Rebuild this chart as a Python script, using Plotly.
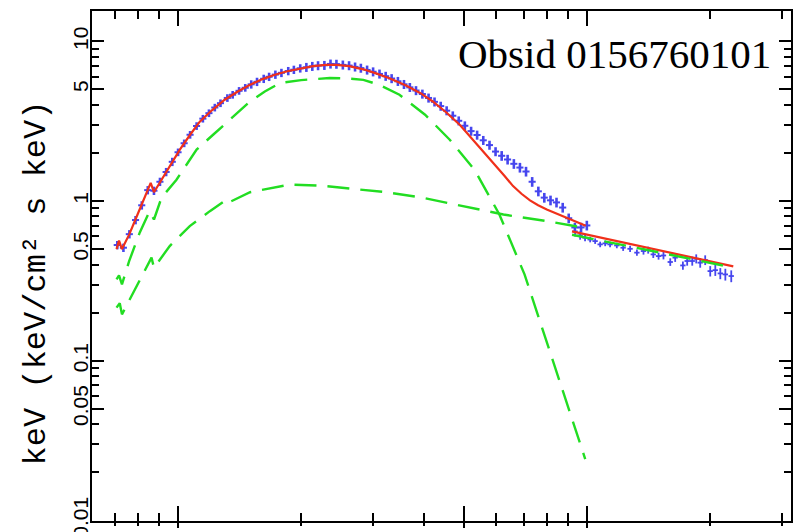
import plotly.graph_objects as go

# ---------------- data ----------------
# observed spectrum, first instrument (keV, keV^2 photons/cm2/s/keV)
d1_E = [0.71, 0.735, 0.76, 0.787, 0.815, 0.843, 0.873, 0.903, 0.935, 0.968,
        1.00, 1.035, 1.07, 1.11, 1.15, 1.19, 1.23, 1.27, 1.32, 1.36, 1.41, 1.46,
        1.51, 1.56, 1.62, 1.67, 1.73, 1.79, 1.86, 1.92, 1.99,
        2.06, 2.13, 2.20, 2.28, 2.36, 2.44, 2.53, 2.62, 2.71, 2.80, 2.90,
        3.00, 3.11, 3.22, 3.33, 3.45, 3.57, 3.69, 3.82, 3.96,
        4.10, 4.24, 4.39, 4.54, 4.70, 4.86,
        5.03, 5.21, 5.39, 5.58, 5.78, 5.98,
        6.19, 6.40, 6.63, 6.86, 7.10, 7.35, 7.61, 7.87,
        8.15, 8.43, 8.73, 9.03, 9.35, 9.68, 10.0]
d1_F = [0.53, 0.51, 0.62, 0.76, 0.94, 1.17, 1.16, 1.32, 1.52, 1.76,
        2.02, 2.30, 2.60, 2.95, 3.28, 3.55, 3.85, 4.10, 4.42, 4.63, 4.90, 5.12,
        5.38, 5.58, 5.83, 6.00, 6.19, 6.35, 6.52, 6.64, 6.78,
        6.88, 6.98, 7.05, 7.08, 7.22, 7.20, 7.12, 7.05, 6.92, 6.80, 6.62,
        6.45, 6.25, 6.05, 5.85, 5.62, 5.38, 5.15, 4.92, 4.68,
        4.42, 4.18, 3.93, 3.68, 3.42, 3.18,
        2.96, 2.74, 2.59, 2.40, 2.24, 2.04,
        1.92, 1.82, 1.71, 1.62, 1.53, 1.32, 1.15, 1.05,
        1.01, 0.98, 0.91, 0.78, 0.683, 0.683, 0.703]
d1_relerr = [0.06, 0.06, 0.06, 0.06, 0.06, 0.06, 0.06, 0.06, 0.06, 0.06,
             0.055, 0.055, 0.055, 0.055, 0.055, 0.055, 0.055, 0.055, 0.055, 0.055, 0.055, 0.055,
             0.06, 0.06, 0.06, 0.06, 0.06, 0.06, 0.06, 0.06, 0.06,
             0.065, 0.065, 0.065, 0.065, 0.065, 0.065, 0.065, 0.065, 0.065, 0.065, 0.065,
             0.065, 0.065, 0.065, 0.065, 0.065, 0.065, 0.065, 0.065, 0.065,
             0.065, 0.065, 0.065, 0.065, 0.065, 0.065,
             0.065, 0.065, 0.065, 0.065, 0.065, 0.065,
             0.07, 0.07, 0.07, 0.07, 0.07, 0.07, 0.07, 0.07,
             0.07, 0.07, 0.07, 0.07, 0.07, 0.07, 0.07]

# observed spectrum, second instrument
d2_E = [9.36, 9.63, 9.90, 10.19, 10.48, 10.78, 11.09, 11.40, 11.84, 12.27,
        12.76, 13.26, 13.76, 14.13, 14.54, 14.98, 15.40, 16.0, 16.45, 17.18,
        17.60, 18.11, 18.52, 18.94, 19.48, 20.04, 20.62, 21.21, 21.82, 22.56]
d2_F = [0.645, 0.609, 0.589, 0.574, 0.561, 0.535, 0.543, 0.535, 0.527, 0.510,
        0.502, 0.475, 0.486, 0.493, 0.463, 0.452, 0.456, 0.415, 0.442, 0.395,
        0.421, 0.421, 0.435, 0.411, 0.427, 0.364, 0.369, 0.352, 0.347, 0.339]
d2_relerr = [0.07, 0.06, 0.05, 0.04, 0.04, 0.04, 0.04, 0.04, 0.04, 0.045,
             0.045, 0.045, 0.05, 0.05, 0.05, 0.05, 0.055, 0.055, 0.06, 0.06,
             0.065, 0.065, 0.065, 0.07, 0.07, 0.075, 0.08, 0.08, 0.085, 0.085]

# total model, instrument 1
m1_E = [0.707, 0.717, 0.729, 0.76, 0.80, 0.83, 0.857, 0.873, 0.92, 0.96,
        1.01, 1.07, 1.13, 1.21, 1.30, 1.40, 1.50, 1.61, 1.725, 1.85, 1.99,
        2.14, 2.30, 2.44, 2.62, 2.84, 3.05, 3.30, 3.60, 3.91, 4.20, 4.54,
        4.90, 5.27, 5.64, 6.02, 6.30, 6.60, 6.92, 7.26, 7.60, 7.98, 8.45,
        8.93, 9.40, 9.94]
m1_F = [0.50, 0.565, 0.50, 0.62, 0.85, 1.07, 1.30, 1.135, 1.41, 1.70,
        2.10, 2.60, 3.14, 3.70, 4.31, 4.85, 5.35, 5.80, 6.18, 6.50, 6.78,
        7.00, 7.12, 7.13, 7.00, 6.68, 6.30, 5.85, 5.30, 4.75, 4.20, 3.57,
        2.98, 2.42, 1.98, 1.65, 1.43, 1.24, 1.11, 1.01, 0.94, 0.885, 0.83,
        0.785, 0.745, 0.70]

# thermal (disc) component, instrument 1
c1_E = [0.707, 0.717, 0.729, 0.759, 0.806, 0.852, 0.873, 0.911, 0.991, 1.11,
        1.22, 1.35, 1.50, 1.63, 1.774, 2.00, 2.35, 2.60, 2.84, 3.10, 3.48,
        4.02, 4.62, 5.31, 6.11, 7.04, 8.10, 9.91]
c1_F = [0.323, 0.342, 0.301, 0.42, 0.636, 0.864, 0.766, 1.05, 1.36, 2.10,
        2.61, 3.29, 4.20, 4.85, 5.48, 5.72, 5.89, 5.85, 5.74, 5.35, 4.63,
        3.47, 2.42, 1.57, 0.824, 0.347, 0.118, 0.0242]

# power-law component, instrument 1
c2_E = [0.707, 0.720, 0.729, 0.80, 0.861, 0.873, 0.954, 1.068, 1.196, 1.314,
        1.331, 1.50, 1.742, 1.877, 2.22, 2.60, 3.24, 3.98, 4.99, 6.25, 7.98,
        8.93, 9.91]
c2_F = [0.215, 0.229, 0.195, 0.307, 0.442, 0.382, 0.522, 0.696, 0.864, 1.02,
        0.979, 1.135, 1.227, 1.268, 1.25, 1.20, 1.135, 1.047, 0.928, 0.823, 0.748,
        0.714, 0.678]

# model and component, instrument 2
m2_E = [9.20, 10.78, 12.98, 15.70, 18.95, 22.82]
m2_F = [0.645, 0.591, 0.533, 0.480, 0.432, 0.390]
c3_F = [0.615, 0.567, 0.515, 0.466, 0.421, 0.383]

x_major = [1, 5, 10]
x_minor = [0.7, 0.8, 0.9, 2, 3, 4, 6, 7, 8, 9, 20, 30]
y_major = [0.01, 0.05, 0.1, 0.5, 1, 5, 10]
y_labels = ["0.01", "0.05", "0.1", "0.5", "1", "5", "10"]
y_minor = [0.02, 0.03, 0.04, 0.06, 0.07, 0.08, 0.09,
           0.2, 0.3, 0.4, 0.6, 0.7, 0.8, 0.9,
           2, 3, 4, 6, 7, 8, 9]

title_text = "Obsid 0156760101"
ylabel_text = "keV (keV/cm² s keV)"

# ---------------- styling ----------------
BLUE = "#4646ee"
RED = "#f0301a"
GREEN = "#22dd22"

fig = go.Figure()

fig.add_trace(go.Scatter(
    x=d1_E, y=d1_F, mode="markers",
    marker=dict(size=1, color=BLUE),
    error_y=dict(type="data", array=[f * e for f, e in zip(d1_F, d1_relerr)],
                 color=BLUE, thickness=2.6, width=0),
    error_x=dict(type="percent", value=2.0, color=BLUE, thickness=2, width=0),
    hoverinfo="skip"))
fig.add_trace(go.Scatter(
    x=d2_E, y=d2_F, mode="markers",
    marker=dict(size=1, color=BLUE),
    error_y=dict(type="data", array=[f * e for f, e in zip(d2_F, d2_relerr)],
                 color=BLUE, thickness=1.8, width=0),
    error_x=dict(type="percent", value=1.5, color=BLUE, thickness=1.8, width=0),
    hoverinfo="skip"))

fig.add_trace(go.Scatter(x=m1_E, y=m1_F, mode="lines",
                         line=dict(color=RED, width=2.2), hoverinfo="skip"))
fig.add_trace(go.Scatter(x=m2_E, y=m2_F, mode="lines",
                         line=dict(color=RED, width=2.2), hoverinfo="skip"))

dash = "22px,11px"
fig.add_trace(go.Scatter(x=c1_E, y=c1_F, mode="lines",
                         line=dict(color=GREEN, width=2.4, dash=dash), hoverinfo="skip"))
fig.add_trace(go.Scatter(x=c2_E, y=c2_F, mode="lines",
                         line=dict(color=GREEN, width=2.4, dash=dash), hoverinfo="skip"))
fig.add_trace(go.Scatter(x=m2_E, y=c3_F, mode="lines", xaxis="x2",
                         line=dict(color=GREEN, width=2.4, dash=dash), hoverinfo="skip"))

W, H = 795, 532
L, R, T, B = 92.3, 4.3, 11, 10.5
xr = [-0.2106, 1.4995]
yr = [-2.004, 1.19]

fig.update_layout(
    width=W, height=H,
    margin=dict(l=L, r=R, t=T, b=B, pad=0, autoexpand=False),
    paper_bgcolor="white", plot_bgcolor="white",
    showlegend=False,
    xaxis=dict(type="log", range=xr, showgrid=False, zeroline=False, automargin=False,
               showline=True, linecolor="black", linewidth=2, mirror="ticks",
               ticks="inside", ticklen=15, tickwidth=1.6, tickcolor="black",
               tickmode="array", tickvals=x_major, showticklabels=False,
               minor=dict(tickmode="array", tickvals=x_minor, ticks="inside",
                          ticklen=8, tickwidth=1.6, tickcolor="black", showgrid=False)),
    xaxis2=dict(type="log", range=xr, overlaying="x", anchor="y", side="bottom",
                showgrid=False, zeroline=False, showline=False, automargin=False,
                ticks="outside", ticklen=6, tickwidth=1.6, tickcolor="black",
                tickmode="array", tickvals=x_major, showticklabels=False,
                minor=dict(tickmode="array", tickvals=x_minor, ticks="outside",
                           ticklen=4, tickwidth=1.6, tickcolor="black", showgrid=False)),
    yaxis=dict(type="log", range=yr, showgrid=False, zeroline=False, automargin=False,
               showline=True, linecolor="black", linewidth=2, mirror="ticks",
               ticks="inside", ticklen=12, tickwidth=1.6, tickcolor="black",
               tickmode="array", tickvals=y_major, ticktext=y_labels,
               tickangle=-90, ticklabelstandoff=-6, ticklabeloverflow="allow",
               tickfont=dict(family="Liberation Sans", size=21, color="black"),
               minor=dict(tickmode="array", tickvals=y_minor, ticks="inside",
                          ticklen=7, tickwidth=1.6, tickcolor="black", showgrid=False)),
    annotations=[
        dict(text=title_text, xref="paper", yref="paper",
             x=(773 - L) / (W - L - R), y=(H - B - 54) / (H - T - B),
             xanchor="right", yanchor="middle", showarrow=False,
             font=dict(family="Liberation Serif", size=41, color="black")),
        dict(text=ylabel_text, xref="paper", yref="paper",
             x=(37 - L) / (W - L - R), y=(H - B - 283) / (H - T - B),
             xanchor="center", yanchor="middle", textangle=-90, showarrow=False,
             font=dict(family="Liberation Mono", size=32, color="black")),
    ],
)

fig.write_html("out.html")
